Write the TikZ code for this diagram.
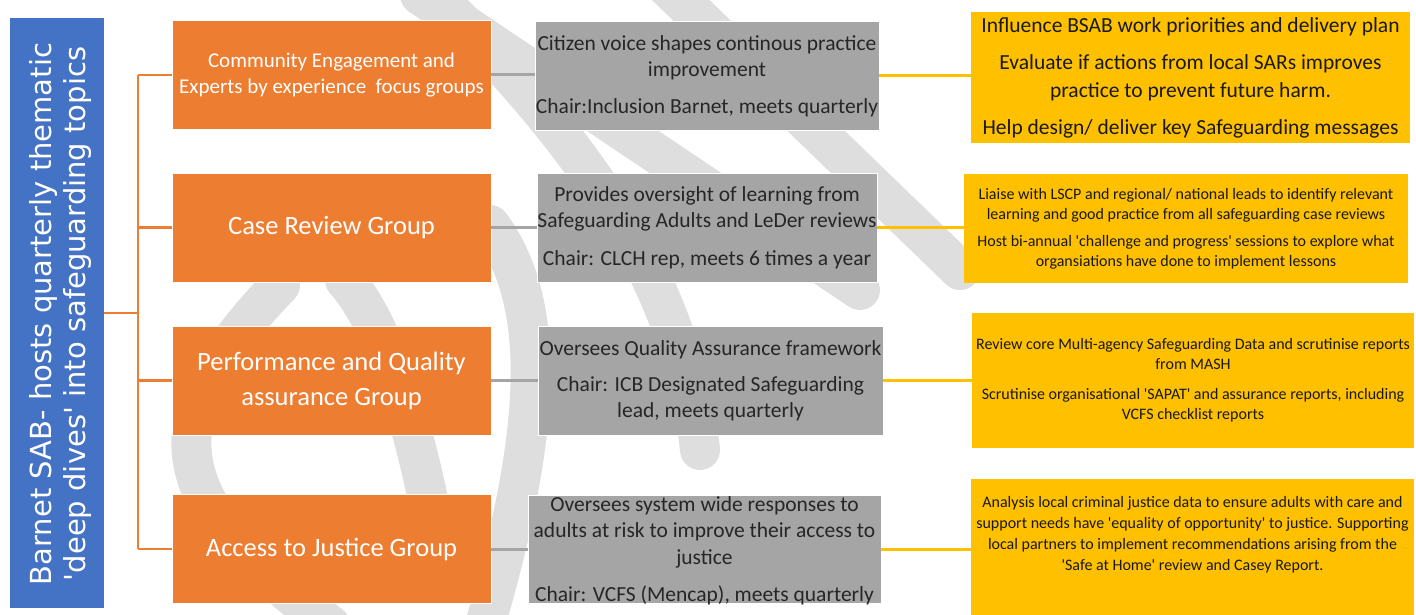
\documentclass[tikz,border=0pt]{standalone}
\usepackage{fontspec}
\setmainfont{Carlito}
\newfontfamily\sabfont{DejaVu Sans}
\usepackage{tikz}
\definecolor{sabblue}{HTML}{4472C4}
\definecolor{grporange}{HTML}{ED7D31}
\definecolor{remitgray}{HTML}{A5A5A5}
\definecolor{actyellow}{HTML}{FFC000}
\definecolor{markgray}{HTML}{DEDEDE}
\newcommand{\qs}{\textquotesingle}

\begin{document}
\begin{tikzpicture}[x=1pt,y=-1pt,
	grp/.style={fill=grporange,draw=white,line width=.8pt,minimum width=319pt,minimum height=109pt,text=white,align=center,inner sep=0pt},
	remit/.style={fill=remitgray,draw=white,line width=.8pt,minimum height=109pt,text=black!85,align=center,inner sep=0pt,font=\fontsize{21.5}{26}\selectfont},
	act/.style={fill=actyellow,text=black!90,align=center,inner sep=0pt},
	tree/.style={draw=grporange,line width=2.2pt},
	link/.style={draw=remitgray,line width=3pt},
	feed/.style={draw=actyellow,line width=3pt},
	swoosh/.style={draw=markgray,line width=40pt,line cap=round}]
	\useasboundingbox (0,0) rectangle (1416,615);
	
	\draw[swoosh] (280,285) .. controls (150,420) and (160,500) .. (330,625);
	\draw[swoosh] (345,280) .. controls (390,330) and (420,450) .. (440,560);
	\draw[swoosh] (490,225) .. controls (545,300) and (545,420) .. (485,625);
	\draw[swoosh] (420,-20) .. controls (540,100) and (680,250) .. (700,450);
	\draw[swoosh] (420,-5) -- (860,290);
	\draw[swoosh] (660,-20) -- (960,270);
	
	\node[fill=sabblue,minimum width=94pt,minimum height=590pt] (sab) at (57,313){};
	\node[rotate=90,text=white,align=center,font=\sabfont\fontsize{29}{34}\selectfont] (sabtext) at (60,314){Barnet SAB- hosts quarterly thematic\\\qs deep dives\qs\ into safeguarding topics};
	
	\node[grp,font=\fontsize{21}{26}\selectfont] (cegrp) at (331.5,75){Community Engagement and\\Experts by experience\ \ focus groups};
	\node[grp,font=\fontsize{26.5}{35}\selectfont] (crgrp) at (331.5,227.5){Case Review Group};
	\node[grp,font=\fontsize{26.5}{35}\selectfont] (pqgrp) at (331.5,380.5){Performance and Quality\\assurance Group};
	\node[grp,font=\fontsize{26.5}{35}\selectfont] (ajgrp) at (331.5,549){Access to Justice Group};
	
	\node[remit,minimum width=344pt] (ceremit) at (707,76){Citizen voice shapes continous practice\\improvement\\[11pt]Chair:Inclusion Barnet, meets quarterly};
	\node[remit,minimum width=340pt] (crremit) at (707,227.5){Provides oversight of learning from\\Safeguarding Adults and LeDer reviews\\[12pt]Chair: CLCH rep, meets 6 times a year};
	\node[remit,minimum width=345pt] (pqremit) at (710.5,380.5){Oversees Quality Assurance framework\\[10pt]Chair: ICB Designated Safeguarding\\lead, meets quarterly};
	\node[remit,minimum width=353pt,minimum height=108pt] (ajremit) at (704.5,549){};
	\node[text=black!85,align=center,font=\fontsize{21.5}{26.5}\selectfont] (ajremittext) at (704.5,551){Oversees system wide responses to\\adults at risk to improve their access to\\justice\\[11pt]Chair: VCFS (Mencap), meets quarterly};
	
	\node[act,minimum width=439pt,minimum height=131pt,font=\fontsize{21.5}{28}\selectfont] (ceact) at (1190.5,77.5){Influence BSAB work priorities and delivery plan\\[9pt]Evaluate if actions from local SARs improves\\practice to prevent future harm.\\[9pt]Help design/ deliver key Safeguarding messages};
	\node[act,minimum width=444pt,minimum height=109pt,font=\fontsize{16}{20}\selectfont] (cract) at (1186,228.5){Liaise with LSCP and regional/ national leads to identify relevant\\learning and good practice from all safeguarding case reviews\\[7pt]Host bi-annual \qs challenge and progress\qs\ sessions to explore what\\organsiations have done to implement lessons};
	\node[act,minimum width=442pt,minimum height=135pt,font=\fontsize{16}{20}\selectfont] (pqact) at (1193,380.5){Review core Multi-agency Safeguarding Data and scrutinise reports\\from MASH\\[10pt]Scrutinise organisational \qs SAPAT\qs\ and assurance reports, including\\VCFS checklist reports};
	\node[act,minimum width=443pt,minimum height=140pt] (ajact) at (1192.5,549){};
	\node[text=black!90,align=center,font=\fontsize{16}{21}\selectfont] (ajacttext) at (1192.5,535){Analysis local criminal justice data to ensure adults with care and\\support needs have \qs equality of opportunity\qs\ to justice. Supporting\\local partners to implement recommendations arising from the\\\qs Safe at Home\qs\ review and Casey Report.};
	
	\coordinate (trunk) at (138,313);
	\draw[tree] (sab.east) -- (trunk);
	\draw[tree] (trunk |- cegrp.west) -- (trunk |- ajgrp.west);
	\foreach \g/\r/\a in {ce/ce/ce,cr/cr/cr,pq/pq/pq,aj/aj/aj}{
		\draw[tree] (trunk |- \g grp.west) -- (\g grp.west);
		\draw[link] (\g grp.east) -- (\g grp.east -| \r remit.west);
		\draw[feed] (\r remit.east) -- (\r remit.east -| \a act.west);
	}
\end{tikzpicture}
\end{document}
